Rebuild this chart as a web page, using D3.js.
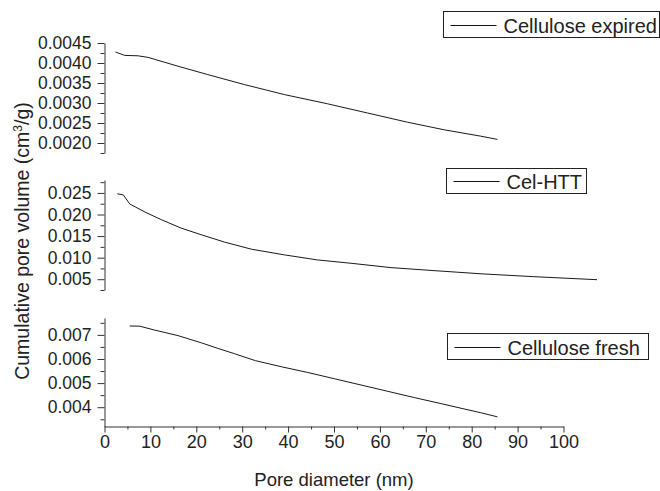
<!DOCTYPE html>
<html>
<head>
<meta charset="utf-8">
<script src="https://cdn.jsdelivr.net/npm/d3@7"></script>
<style>
  html, body { margin: 0; padding: 0; background: #fff; }
  svg text { font-family: "Liberation Sans", Arial, sans-serif; fill: #222; }
</style>
</head>
<body>
<svg id="chart" width="660" height="491"></svg>
<script>
// ---- data ----
const xTickLabels = [0, 10, 20, 30, 40, 50, 60, 70, 80, 90, 100];
const xMinorTicks = [5, 15, 25, 35, 45, 55, 65, 75, 85, 95];

const expiredX = [2.4, 4.4, 7.3, 9.5, 16.0, 22.5, 30.5, 39.2, 48.6, 57.3, 66.0, 74.0, 82.0, 85.6];
const expiredY = [0.004275, 0.00419, 0.00418, 0.00414, 0.00392, 0.00371, 0.00346, 0.00321, 0.00298, 0.00275, 0.00252, 0.00233, 0.00217, 0.00209];

const httX = [2.8, 4.1, 5.5, 8.8, 12.4, 16.7, 21.1, 26.2, 32.0, 39.2, 46.4, 53.7, 62.4, 71.8, 82.7, 93.5, 107.3];
const httY = [0.0248, 0.02455, 0.02244, 0.02058, 0.01879, 0.01685, 0.0153, 0.01359, 0.01196, 0.01064, 0.00947, 0.0087, 0.00769, 0.00699, 0.00621, 0.00559, 0.00489];

const freshX = [5.5, 7.7, 10.9, 16.0, 21.1, 24.7, 28.3, 32.9, 38.5, 44.3, 50.1, 55.9, 61.7, 67.5, 73.3, 78.3, 82.0, 85.6];
const freshY = [0.00737, 0.00736, 0.0072, 0.00697, 0.00667, 0.00644, 0.00622, 0.00593, 0.00568, 0.00544, 0.00518, 0.00492, 0.00466, 0.0044, 0.00415, 0.00393, 0.00377, 0.0036];

const topTicks = [0.0020, 0.0025, 0.0030, 0.0035, 0.0040, 0.0045];
const topMinor = [0.00175, 0.00225, 0.00275, 0.00325, 0.00375, 0.00425];
const midTicks = [0.005, 0.010, 0.015, 0.020, 0.025];
const midMinor = [0.0025, 0.0075, 0.0125, 0.0175, 0.0225, 0.0275];
const botTicks = [0.004, 0.005, 0.006, 0.007];
const botMinor = [0.0035, 0.0045, 0.0055, 0.0065, 0.0075];

const seriesNames = ["Cellulose expired", "Cel-HTT", "Cellulose fresh"];

// ---- layout ----
const svg = d3.select("#chart");
const axisX = 104.5;
const x = d3.scaleLinear().domain([0, 100]).range([axisX, 563.5]);

const panels = [
  { name: seriesNames[0], xs: expiredX, ys: expiredY, domain: [0.00175, 0.0045], range: [153, 43],
    ticks: topTicks, minor: topMinor, fmt: d3.format(".4f"),
    legend: { x: 443.5, y: 11.5, w: 216, h: 26 } },
  { name: seriesNames[1], xs: httX, ys: httY, domain: [0.0025, 0.028], range: [290, 180],
    ticks: midTicks, minor: midMinor, fmt: d3.format(".3f"),
    legend: { x: 446.5, y: 168.5, w: 140, h: 25 } },
  { name: seriesNames[2], xs: freshX, ys: freshY, domain: [0.0032, 0.0077], range: [426.5, 318],
    ticks: botTicks, minor: botMinor, fmt: d3.format(".3f"),
    legend: { x: 447.5, y: 333.5, w: 201, h: 26 } }
];

panels.forEach(p => {
  const y = d3.scaleLinear().domain(p.domain).range(p.range);
  const g = svg.append("g");

  g.append("g").attr("transform", `translate(${axisX},0)`)
    .call(d3.axisLeft(y).tickValues(p.minor).tickSize(4).tickSizeOuter(0).tickFormat(""))
    .call(s => s.select(".domain").remove())
    .call(s => s.selectAll("line").attr("stroke", "#333"));

  g.append("g").attr("transform", `translate(${axisX},0)`)
    .call(d3.axisLeft(y).tickValues(p.ticks).tickSize(7).tickSizeOuter(0).tickPadding(6).tickFormat(p.fmt))
    .call(s => s.select(".domain").attr("stroke", "#333"))
    .call(s => s.selectAll("line").attr("stroke", "#333"))
    .call(s => s.selectAll("text").attr("font-size", "17.5px").attr("fill", "#2a2a2a")
      .style("font-family", '"Liberation Sans", Arial, sans-serif'));

  const pts = p.xs.map((v, i) => [v, p.ys[i]]);
  g.append("path")
    .datum(pts)
    .attr("fill", "none")
    .attr("stroke", "#1a1a1a")
    .attr("stroke-width", 1)
    .attr("d", d3.line().x(d => x(d[0])).y(d => y(d[1])));

  const L = p.legend;
  const lg = g.append("g");
  lg.append("rect").attr("x", L.x).attr("y", L.y).attr("width", L.w).attr("height", L.h)
    .attr("fill", "#fff").attr("stroke", "#222").attr("stroke-width", 1);
  const cy = Math.round(L.y + L.h / 2) + 0.5;
  lg.append("line").attr("x1", L.x + 7).attr("x2", L.x + 53).attr("y1", cy).attr("y2", cy)
    .attr("stroke", "#111").attr("stroke-width", 1);
  lg.append("text").attr("x", L.x + 60).attr("y", cy + 7).attr("font-size", "20px").attr("fill", "#2a2a2a").text(p.name);
});

// x axis (bottom panel)
const xAxisY = 426.5;
svg.append("g").attr("transform", `translate(0,${xAxisY})`)
  .call(d3.axisBottom(x).tickValues(xMinorTicks).tickSize(3).tickSizeOuter(0).tickFormat(""))
  .call(s => s.select(".domain").remove())
  .call(s => s.selectAll("line").attr("stroke", "#333"));
svg.append("g").attr("transform", `translate(0,${xAxisY})`)
  .call(d3.axisBottom(x).tickValues(xTickLabels).tickSize(6).tickSizeOuter(0).tickPadding(3).tickFormat(d3.format("d")))
  .call(s => s.select(".domain").attr("stroke", "#333"))
  .call(s => s.selectAll("line").attr("stroke", "#333"))
  .call(s => s.selectAll("text").attr("font-size", "18px").attr("fill", "#2a2a2a")
    .style("font-family", '"Liberation Sans", Arial, sans-serif'));

// axis titles
svg.append("text")
  .attr("x", (x(0) + x(100)) / 2).attr("y", 486)
  .attr("text-anchor", "middle").attr("font-size", "18.5px").attr("fill", "#2a2a2a")
  .text("Pore diameter (nm)");

const yt = svg.append("text")
  .attr("transform", "translate(29,241) rotate(-90)")
  .attr("text-anchor", "middle").attr("font-size", "19.5px").attr("fill", "#2a2a2a");
yt.append("tspan").text("Cumulative pore volume (cm");
yt.append("tspan").attr("baseline-shift", "super").attr("font-size", "12px").text("3");
yt.append("tspan").text("/g)");
</script>
</body>
</html>
